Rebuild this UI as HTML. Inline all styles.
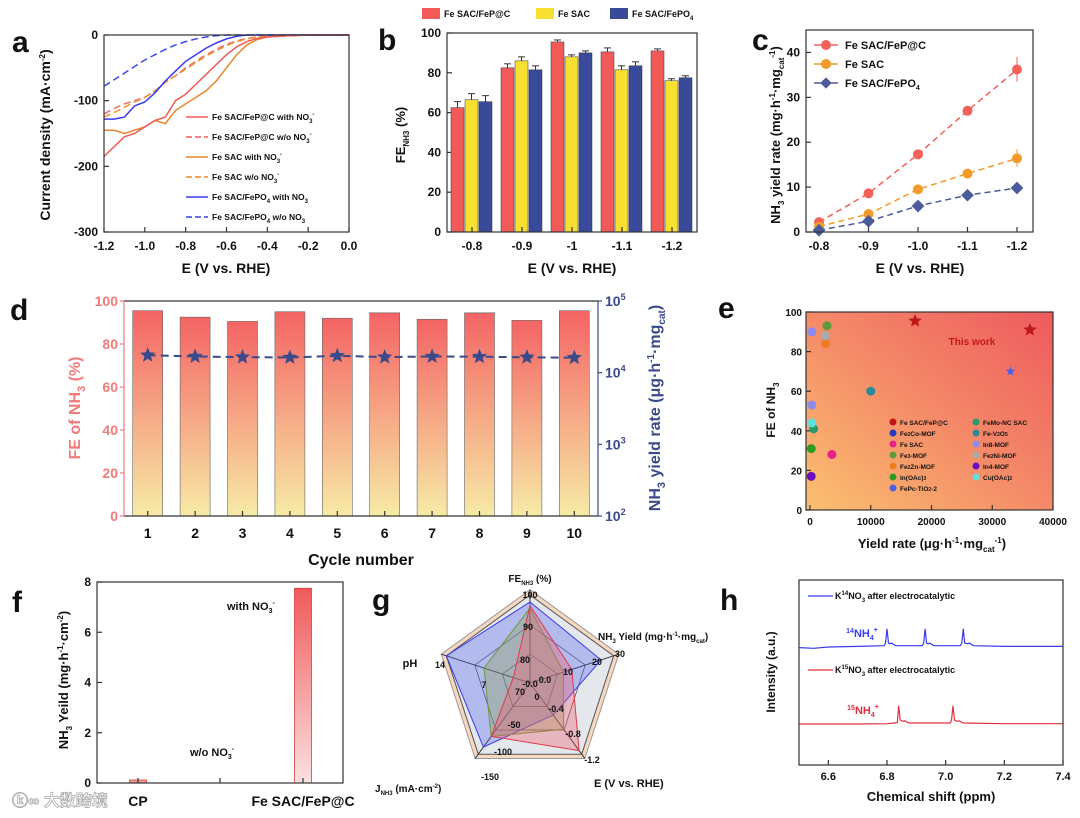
<!DOCTYPE html><html><head><meta charset="utf-8"><style>
body{margin:0;background:#fff}svg{display:block;font-family:"Liberation Sans","Noto Sans CJK SC",sans-serif;font-weight:bold}
</style></head><body>
<svg id="s" width="1080" height="818" viewBox="0 0 1080 818">
<defs>
<linearGradient id="bg" x1="0" y1="0" x2="0" y2="1"><stop offset="0" stop-color="#f46464"/><stop offset="1" stop-color="#f7eaa6"/></linearGradient>
<linearGradient id="eg" x1="0" y1="1" x2="1" y2="0"><stop offset="0" stop-color="#fbc070"/><stop offset="0.5" stop-color="#f48a68"/><stop offset="1" stop-color="#ee5a5e"/></linearGradient>
<linearGradient id="fg" x1="0" y1="0" x2="0" y2="1"><stop offset="0" stop-color="#f05a5a"/><stop offset="1" stop-color="#fbe0e0"/></linearGradient>
</defs>
<g id="root"></g>
</svg>
<script>
// ---------- data ----------
const aX=[-1.2,-1.15,-1.1,-1.05,-1.0,-0.95,-0.9,-0.85,-0.8,-0.75,-0.7,-0.65,-0.6,-0.55,-0.5,-0.45,-0.4,-0.3,-0.2,-0.1,0];
const aRedSolid=[-185,-170,-155,-150,-140,-130,-125,-100,-90,-75,-60,-45,-30,-18,-10,-5,-3,-1,0,0,0];
const aRedDash=[-120,-112,-105,-100,-95,-85,-72,-62,-50,-40,-30,-22,-14,-9,-5,-3,-2,-1,0,0,0];
const aOrSolid=[-145,-145,-150,-145,-140,-130,-135,-115,-105,-95,-85,-70,-50,-30,-15,-7,-3,-1,0,0,0];
const aOrDash=[-125,-118,-110,-102,-95,-85,-72,-62,-52,-42,-32,-24,-16,-10,-6,-3,-2,-1,0,0,0];
const aBlSolid=[-128,-128,-125,-108,-102,-88,-70,-55,-40,-30,-20,-12,-6,-2,0,0,0,0,0,0,0];
const aBlDash=[-78,-68,-58,-48,-38,-30,-22,-15,-10,-6,-3,-1,0,0,0,0,0,0,0,0,0];
const bCats=["-0.8","-0.9","-1","-1.1","-1.2"];
const bFeP=[62.5,82.5,95.5,90.5,91];
const bSAC=[66.5,86,88,81.5,76];
const bPO4=[65.5,81.5,90,83.5,77.5];
const bErr=[3,2,1,2,1];
const cX=[-0.8,-0.9,-1.0,-1.1,-1.2];
const cFeP=[2.2,8.6,17.3,27,36.2];
const cSAC=[1.2,4,9.5,13,16.4];
const cPO4=[0.4,2.4,5.8,8.2,9.8];
const dCycles=[1,2,3,4,5,6,7,8,9,10];
const dFE=[95.5,92.5,90.5,95,92,94.5,91.5,94.5,91,95.5];
const dYield=[17500,16800,16500,16300,17200,16500,16800,16700,16400,16200];
const eX=[17300,36200,3600,300,2800,2600,200,33000,600,10000,300,2500,200,300];
const eY=[95.5,91,28,90,93,84,31,70,41,60,53,88,17,44];
const eCol=["#c0181a","#c0181a","#e8208a","#8a8cf0","#5c9a3a","#f07a20","#2a9a20","#5060e0","#2a9a6a","#2a8a9a","#8a8cf0","#aaa","#6a10c0","#60e0e0"];
const fCats=["CP","Fe SAC/FeP@C"];
const fVals=[0.12,7.75];
const gAxes=["FE","Y","E","J","pH"];
const gBlue=[0.92,0.85,0.45,0.9,1.0];
const gRed=[0.88,0.5,0.95,0.75,0.2];
const gGreen=[0.85,0.4,0.65,0.75,0.55];
const hX=[6.5,6.55,6.6,6.7,6.79,6.795,6.8,6.805,6.81,6.815,6.83,6.92,6.925,6.93,6.935,6.94,6.945,6.96,7.05,7.055,7.06,7.065,7.075,7.08,7.095,7.2,7.3,7.4];
const hTop=[-1,-2,0,1,2,6,28,6,5,6,2,2,6,28,6,5,6,2,2,6,28,6,5,6,2,1,1,1];
const hX2=[6.5,6.6,6.7,6.8,6.835,6.84,6.845,6.855,6.86,6.875,7.015,7.02,7.025,7.03,7.04,7.045,7.06,7.2,7.3,7.4];
const hBot=[0,0,0,0.5,2,28,6,4,5,1.5,1.5,6,28,6,4,5,1.5,0.5,0.5,0.5];
// ---------- helpers ----------
const NS="http://www.w3.org/2000/svg";const R=document.getElementById('root');
function el(t,a,p){const e=document.createElementNS(NS,t);for(const k in a)e.setAttribute(k,a[k]);(p||R).appendChild(e);return e;}
function tx(x,y,s,o){o=o||{};const e=el('text',{x:x,y:y,'font-size':o.fs||12,'text-anchor':o.a||'middle',fill:o.c||'#111'});if(o.r)e.setAttribute('transform',`rotate(${o.r} ${x} ${y})`);e.innerHTML=s;


return e;}
function lin(d0,d1,r0,r1){return v=>r0+(v-d0)/(d1-d0)*(r1-r0);}
function frame(x0,y0,x1,y1,n){const e=el('rect',{x:x0,y:y0,width:x1-x0,height:y1-y0,fill:'none',stroke:'#333','stroke-width':1.2});

}
function path(xs,ys,X,Y,st,n){const d=xs.map((v,i)=>(i?'L':'M')+X(v).toFixed(1)+','+Y(ys[i]).toFixed(1)).join('');const e=el('path',Object.assign({d:d,fill:'none'},st));

return e;}
function tick(x1,y1,x2,y2,c){el('line',{x1,y1,x2,y2,stroke:c||'#333','stroke-width':1.2});}
function panel(l,x,y){tx(x,y,l,{fs:30,a:'start',n:'panel-label-'+l});}
// ---------- a ----------
panel('a',12,52);
{const X=lin(-1.2,0,104,349),Y=lin(-300,0,232,35);
[0,-100,-200,-300].forEach(v=>{tick(104,Y(v),109,Y(v));tx(98,Y(v)+4,v,{a:'end',n:'a-ytick'});});
[-1.2,-1.0,-0.8,-0.6,-0.4,-0.2,0].forEach(v=>{tick(X(v),232,X(v),227);tx(X(v),250,v.toFixed(1),{n:'a-xtick'});});
path(aX,aRedDash,X,Y,{stroke:'#f06a6a','stroke-width':1.5,'stroke-dasharray':'7 4'},'a-fep-wo');
path(aX,aOrDash,X,Y,{stroke:'#f0902a','stroke-width':1.5,'stroke-dasharray':'7 4'},'a-sac-wo');
path(aX,aBlDash,X,Y,{stroke:'#3a4af0','stroke-width':1.5,'stroke-dasharray':'7 4'},'a-po4-wo');
path(aX,aOrSolid,X,Y,{stroke:'#e8862a','stroke-width':1.5},'a-sac-with');
path(aX,aBlSolid,X,Y,{stroke:'#3a3af0','stroke-width':1.5},'a-po4-with');
path(aX,aRedSolid,X,Y,{stroke:'#f05a5a','stroke-width':1.5},'a-fep-with');
frame(104,35,349,232,'a-plot-frame');
const lg=[["Fe SAC/FeP@C with NO<tspan font-size='6' dy='3'>3</tspan><tspan font-size='6' dy='-7'>-</tspan>",'#f05a5a',0],["Fe SAC/FeP@C w/o NO<tspan font-size='6' dy='3'>3</tspan><tspan font-size='6' dy='-7'>-</tspan>",'#f05a5a',1],["Fe SAC with NO<tspan font-size='6' dy='3'>3</tspan><tspan font-size='6' dy='-7'>-</tspan>",'#e8862a',0],["Fe SAC w/o NO<tspan font-size='6' dy='3'>3</tspan><tspan font-size='6' dy='-7'>-</tspan>",'#e8862a',1],["Fe SAC/FePO<tspan font-size='6' dy='3'>4</tspan><tspan dy='-3'> with NO</tspan><tspan font-size='6' dy='3'>3</tspan>",'#3a3af0',0],["Fe SAC/FePO<tspan font-size='6' dy='3'>4</tspan><tspan dy='-3'> w/o NO</tspan><tspan font-size='6' dy='3'>3</tspan>",'#3a3af0',1]];
lg.forEach((g,i)=>{const y=117+i*20;el('line',{x1:186,y1:y,x2:208,y2:y,stroke:g[1],'stroke-width':1.6,'stroke-dasharray':g[2]?'6 3':'none'});tx(212,y+3,g[0],{fs:8.5,a:'start',n:'a-legend-entry'});});
tx(50,135,"Current density (mA·cm<tspan font-size='8' dy='-5'>-2</tspan><tspan dy='5'>)</tspan>",{fs:14,r:-90,n:'a-y-title'});
tx(226,273,"E (V vs. RHE)",{fs:14,n:'a-x-title'});}
// ---------- b ----------
panel('b',378,50);
{const Y=lin(0,100,232,33),x0=447,w=250,bw=(w/5);
[0,20,40,60,80,100].forEach(v=>{tick(447,Y(v),452,Y(v));tx(441,Y(v)+4,v,{a:'end',n:'b-ytick'});});
const cols=['#f25a5a','#f8e030','#3a4a9a'];
bCats.forEach((c,i)=>{const cx=x0+bw*(i+0.5);[bFeP,bSAC,bPO4].forEach((s,j)=>{const x=cx-21+j*14,y=Y(s[i]);const r=el('rect',{x:x,y:y,width:13,height:232-y,fill:cols[j],stroke:'#333','stroke-width':0.5});


el('line',{x1:x+6.5,y1:y-bErr[i]*2,x2:x+6.5,y2:y,stroke:'#333','stroke-width':1});el('line',{x1:x+3,y1:y-bErr[i]*2,x2:x+10,y2:y-bErr[i]*2,stroke:'#333','stroke-width':1});});
tick(cx,232,cx,227);tx(cx,250,c,{n:'b-xtick'});});
frame(447,33,697,232,'b-plot-frame');
[['Fe SAC/FeP@C',cols[0],422],['Fe SAC',cols[1],536],['Fe SAC/FePO<tspan font-size="6" dy="3">4</tspan>',cols[2],610]].forEach(g=>{const r=el('rect',{x:g[2],y:8,width:18,height:11,fill:g[1]});


tx(g[2]+22,17,g[0],{fs:9,a:'start',n:'b-legend-entry'});});
tx(405,135,"FE<tspan font-size='8' dy='4'>NH3</tspan><tspan dy='-4'> (%)</tspan>",{fs:13,r:-90,n:'b-y-title'});
tx(572,273,"E (V vs. RHE)",{fs:14,n:'b-x-title'});}
// ---------- c ----------
panel('c',752,50);
{const X=lin(-0.8,-1.2,819,1017),Y=lin(0,45,232,30);
[0,10,20,30,40].forEach(v=>{tick(806,Y(v),811,Y(v));tx(800,Y(v)+4,v,{a:'end',n:'c-ytick'});});
cX.forEach(v=>{tick(X(v),232,X(v),227);tx(X(v),250,v.toFixed(1),{n:'c-xtick'});});
[[cFeP,'#f2625a'],[cSAC,'#f29a2a'],[cPO4,'#4a5a9a']].forEach((s,j)=>{path(cX,s[0],X,Y,{stroke:s[1],'stroke-width':1.5,'stroke-dasharray':'6 4'},'c-line-'+j);
s[0].forEach((v,i)=>{const m=j==2?el('rect',{x:X(cX[i])-4.5,y:Y(v)-4.5,width:9,height:9,fill:s[1],transform:`rotate(45 ${X(cX[i])} ${Y(v)})`}):el('circle',{cx:X(cX[i]),cy:Y(v),r:5,fill:s[1]});

});});
el('line',{x1:X(-1.2),y1:Y(39),x2:X(-1.2),y2:Y(33.5),stroke:'#f2625a'});el('line',{x1:X(-1.2),y1:Y(18.5),x2:X(-1.2),y2:Y(14.5),stroke:'#f29a2a'});
frame(806,30,1033,232,'c-plot-frame');
[['Fe SAC/FeP@C','#f2625a',0],['Fe SAC','#f29a2a',1],['Fe SAC/FePO<tspan font-size="7" dy="3">4</tspan>','#4a5a9a',2]].forEach((g,i)=>{const y=45+i*19;el('line',{x1:814,y1:y,x2:838,y2:y,stroke:g[1],'stroke-width':1.5});
const m=i==2?el('rect',{x:822,y:y-4,width:8,height:8,fill:g[1],transform:`rotate(45 826 ${y})`}):el('circle',{cx:826,cy:y,r:5,fill:g[1]});


tx(845,y+4,g[0],{fs:11,a:'start',n:'c-legend-entry'});});
tx(780,135,"NH<tspan font-size='8' dy='4'>3</tspan><tspan dy='-4'> yield rate (mg·h</tspan><tspan font-size='8' dy='-5'>-1</tspan><tspan dy='5'>·mg</tspan><tspan font-size='8' dy='4'>cat</tspan><tspan font-size='8' dy='-9'>-1</tspan><tspan dy='5'>)</tspan>",{fs:13,r:-90,n:'c-y-title'});
tx(920,273,"E (V vs. RHE)",{fs:14,n:'c-x-title'});}
// ---------- d ----------
panel('d',10,320);
{const x0=124,x1=598,y0=301,y1=516,Y=lin(0,100,y1,y0),sp=(x1-x0)/10,YL=v=>lin(2,5,y1,y0)(Math.log10(v));
dCycles.forEach((c,i)=>{const cx=x0+sp*(i+0.5),y=Y(dFE[i]);const r=el('rect',{x:cx-15,y:y,width:30,height:y1-y,fill:'url(#bg)',stroke:'#666','stroke-width':0.6});


tick(cx,y1,cx,y1-5);tx(cx,538,c,{fs:14,n:'d-xtick'});});
path(dCycles,dYield,c=>x0+sp*(c-0.5),YL,{stroke:'#3a4a8a','stroke-width':2,'stroke-dasharray':'8 5'},'d-yield-line');
dCycles.forEach((c,i)=>{const cx=x0+sp*(i+0.5),cy=YL(dYield[i]);const p=[];for(let k=0;k<10;k++){const r=k%2?3.5:8,a=-Math.PI/2+k*Math.PI/5;p.push((cx+r*Math.cos(a)).toFixed(1)+','+(cy+r*Math.sin(a)).toFixed(1));}
const s=el('polygon',{points:p.join(' '),fill:'#3a4a8a'});

});
el('line',{x1:x0,y1:y0,x2:x1,y2:y0,stroke:'#333','stroke-width':1.2});
el('line',{x1:x0,y1:y1,x2:x1,y2:y1,stroke:'#333','stroke-width':1.2});
el('line',{x1:x0,y1:y0,x2:x0,y2:y1,stroke:'#f27a7a','stroke-width':1.2});
el('line',{x1:x1,y1:y0,x2:x1,y2:y1,stroke:'#3a4a8a','stroke-width':1.2});
[0,20,40,60,80,100].forEach(v=>{tick(x0-4,Y(v),x0,Y(v),'#f27a7a');tx(x0-6,Y(v)+5,v,{fs:14,a:'end',c:'#f27a7a',n:'d-ytick-left'});});
[2,3,4,5].forEach(p=>{tick(x1,YL(Math.pow(10,p)),x1+4,YL(Math.pow(10,p)),'#3a4a8a');tx(x1+7,YL(Math.pow(10,p))+5,"10<tspan font-size='9' dy='-6'>"+p+"</tspan>",{fs:14,a:'start',c:'#3a4a8a',n:'d-ytick-right'});});
tx(80,408,"FE of NH<tspan font-size='11' dy='5'>3</tspan><tspan dy='-5'> (%)</tspan>",{fs:16,r:-90,c:'#f27a7a',n:'d-y-title-left'});
tx(660,408,"NH<tspan font-size='11' dy='5'>3</tspan><tspan dy='-5'> yield rate (μg·h</tspan><tspan font-size='10' dy='-6'>-1</tspan><tspan dy='6'>·mg</tspan><tspan font-size='10' dy='5'>cat</tspan><tspan dy='-5'>)</tspan>",{fs:16,r:-90,c:'#3a4a8a',n:'d-y-title-right'});
tx(361,565,"Cycle number",{fs:16,n:'d-x-title'});}
// ---------- e ----------
panel('e',718,318);
{const X=lin(0,40000,810,1053),Y=lin(0,100,510,312);
const bgr=el('rect',{x:806,y:312,width:247,height:198,fill:'url(#eg)'});


[0,20,40,60,80,100].forEach(v=>{tick(806,Y(v),811,Y(v));tx(802,Y(v)+4,v,{fs:10,a:'end',n:'e-ytick'});});
[0,10000,20000,30000,40000].forEach(v=>{tick(X(v),510,X(v),505);tx(X(v),525,v,{fs:10,n:'e-xtick'});});
eX.forEach((v,i)=>{let m;if(i<2||i==7){const cx=X(v),cy=Y(eY[i]),p=[];const R0=i<2?7:5;for(let k=0;k<10;k++){const r=k%2?R0*0.45:R0,a=-Math.PI/2+k*Math.PI/5;p.push((cx+r*Math.cos(a)).toFixed(1)+','+(cy+r*Math.sin(a)).toFixed(1));}m=el('polygon',{points:p.join(' '),fill:eCol[i]});}
else m=el('circle',{cx:X(v),cy:Y(eY[i]),r:4.5,fill:eCol[i]});

});
tx(972,345,"This work",{fs:10,c:'#c41818',n:'e-this-work'});
const L1=["Fe SAC/FeP@C","Fe<tspan font-size='5'>2</tspan>Co-MOF","Fe SAC","Fe<tspan font-size='5'>3</tspan>-MOF","Fe<tspan font-size='5'>2</tspan>Zn-MOF","In(OAc)<tspan font-size='5'>3</tspan>","FePc-TiO<tspan font-size='5'>2</tspan>-2"],C1=['#c0181a','#2a3ac0','#e8208a','#5c9a3a','#f07a20','#2a9a20','#5060e0'];
const L2=["FeMo-NC SAC","Fe-V<tspan font-size='5'>2</tspan>O<tspan font-size='5'>5</tspan>","In8-MOF","Fe<tspan font-size='5'>2</tspan>Ni-MOF","In4-MOF","Cu(OAc)<tspan font-size='5'>2</tspan>"],C2=['#2a9a6a','#2a8a9a','#8a8cf0','#aaa','#6a10c0','#60e0e0'];
L1.forEach((s,i)=>{const y=422+i*11;const c=el('circle',{cx:893,cy:y,r:3.5,fill:C1[i]});


tx(900,y+3,s,{fs:6.5,a:'start',n:'e-legend-entry'});});
L2.forEach((s,i)=>{const y=422+i*11;const c=el('circle',{cx:976,cy:y,r:3.5,fill:C2[i]});


tx(983,y+3,s,{fs:6.5,a:'start',n:'e-legend-entry'});});
frame(806,312,1053,510,'e-plot-frame');
tx(775,410,"FE of NH<tspan font-size='8' dy='4'>3</tspan>",{fs:12,r:-90,n:'e-y-title'});
tx(932,548,"Yield rate (μg·h<tspan font-size='8' dy='-5'>-1</tspan><tspan dy='5'>·mg</tspan><tspan font-size='8' dy='4'>cat</tspan><tspan font-size='8' dy='-9'>-1</tspan><tspan dy='5'>)</tspan>",{fs:13,n:'e-x-title'});}
// ---------- f ----------
panel('f',12,612);
{const Y=lin(0,8,783,582),xs=[138,303];
[0,2,4,6,8].forEach(v=>{tick(97,Y(v),102,Y(v));tx(91,Y(v)+4,v,{a:'end',n:'f-ytick'});});
fVals.forEach((v,i)=>{const r=el('rect',{x:xs[i]-8.5,y:Y(v),width:17,height:783-Y(v),fill:i?'url(#fg)':'#f2a090',stroke:'#d04040','stroke-width':0.8});


tick(xs[i],783,xs[i],778);
tx(xs[i],806,fCats[i],{fs:14,n:'f-xtick'});});
tick(220,783,220,778);
frame(97,582,343,783,'f-plot-frame');
tx(227,610,"with NO<tspan font-size='7' dy='3'>3</tspan><tspan font-size='7' dy='-8'>-</tspan>",{fs:11,a:'start',n:'f-annot-with'});
tx(190,756,"w/o NO<tspan font-size='7' dy='3'>3</tspan><tspan font-size='7' dy='-8'>-</tspan>",{fs:11,a:'start',n:'f-annot-wo'});
tx(68,680,"NH<tspan font-size='8' dy='4'>3</tspan><tspan dy='-4'> Yeild (mg·h</tspan><tspan font-size='8' dy='-5'>-1</tspan><tspan dy='5'>·cm</tspan><tspan font-size='8' dy='-5'>-2</tspan><tspan dy='5'>)</tspan>",{fs:13,r:-90,n:'f-y-title'});}
{const w=tx(12,806,"ⓚ∞ 大数跨境",{fs:16,c:'#fff',a:'start',n:'watermark'});w.setAttribute('stroke','#aaa');w.setAttribute('stroke-width','0.8');}
// ---------- g ----------
panel('g',372,610);
{const cx=530,cy=683,R0=88,ang=i=>-Math.PI/2+i*2*Math.PI/5,pt=(i,r)=>[cx+R0*r*Math.cos(ang(i)),cy+R0*r*Math.sin(ang(i))];
const poly=r=>[0,1,2,3,4].map(i=>pt(i,r).map(v=>v.toFixed(1)).join(',')).join(' ');
el('polygon',{points:poly(1.06),fill:'#f6d8c0',stroke:'#999'});
el('polygon',{points:poly(1),fill:'#e4e8ec',stroke:'#555'});
[0.33,0.66].forEach(r=>el('polygon',{points:poly(r),fill:'none',stroke:'#444','stroke-width':0.7}));
[0,1,2,3,4].forEach(i=>{const p=pt(i,1.06);el('line',{x1:cx,y1:cy,x2:p[0],y2:p[1],stroke:'#333','stroke-width':1});});
[[gBlue,'rgba(90,100,240,0.35)','#3a3af0'],[gGreen,'rgba(140,160,80,0.35)','#6a9a3a'],[gRed,'rgba(240,90,110,0.35)','#e03a4a']].forEach((s,j)=>{const e=el('polygon',{points:s[0].map((r,i)=>pt(i,r).map(v=>v.toFixed(1)).join(',')).join(' '),fill:s[1],stroke:s[2],'stroke-width':1});

});
[["100",530,598],["90",528,630],["80",525,663],["70",520,695],["30",620,657],["20",597,665],["10",568,675],["0.0",545,683],["-0.4",556,712],["-0.8",573,737],["-1.2",592,763],["-50",514,728],["-100",503,755],["-150",490,780],["14",440,668],["7",484,688],["0",537,700],["-0.0",530,687]].forEach(t=>tx(t[1],t[2],t[0],{fs:9,n:'g-axis-tick'}));
tx(530,582,"FE<tspan font-size='6' dy='3'>NH3</tspan><tspan dy='-3'> (%)</tspan>",{fs:10,n:'g-axis-fe'});
tx(598,640,"NH<tspan font-size='6' dy='3'>3</tspan><tspan dy='-3'> Yield (mg·h</tspan><tspan font-size='6' dy='-4'>-1</tspan><tspan dy='4'>·mg</tspan><tspan font-size='6' dy='3'>cat</tspan><tspan dy='-3'>)</tspan>",{fs:10,a:'start',n:'g-axis-yield'});
tx(410,667,"pH",{fs:11,n:'g-axis-ph'});
tx(375,792,"J<tspan font-size='6' dy='3'>NH3</tspan><tspan dy='-3'> (mA·cm</tspan><tspan font-size='6' dy='-4'>-2</tspan><tspan dy='4'>)</tspan>",{fs:10,a:'start',n:'g-axis-j'});
tx(594,787,"E (V vs. RHE)",{fs:11,a:'start',n:'g-axis-e'});}
// ---------- h ----------
panel('h',720,610);
{const X=lin(6.5,7.4,799,1063),Yt=v=>647-v*0.65,Yb=v=>724-v*0.65;
path(hX,hTop,X,Yt,{stroke:'#3a3af0','stroke-width':1.2},'h-spectrum-14N');
path(hX2,hBot,X,Yb,{stroke:'#e03040','stroke-width':1.2},'h-spectrum-15N');
[6.6,6.8,7.0,7.2,7.4].forEach(v=>{tick(X(v),765,X(v),760);tx(X(v),780,v.toFixed(1),{fs:11,n:'h-xtick'});});
frame(799,580,1063,765,'h-plot-frame');
el('line',{x1:808,y1:596,x2:833,y2:596,stroke:'#3a3af0','stroke-width':1.3});
tx(835,599,"K<tspan font-size='6' dy='-4'>14</tspan><tspan dy='4'>NO</tspan><tspan font-size='6' dy='3'>3</tspan><tspan dy='-3'> after electrocatalytic</tspan>",{fs:9,a:'start',n:'h-legend-14N'});
el('line',{x1:808,y1:670,x2:833,y2:670,stroke:'#e03040','stroke-width':1.3});
tx(835,673,"K<tspan font-size='6' dy='-4'>15</tspan><tspan dy='4'>NO</tspan><tspan font-size='6' dy='3'>3</tspan><tspan dy='-3'> after electrocatalytic</tspan>",{fs:9,a:'start',n:'h-legend-15N'});
tx(862,637,"<tspan font-size='7' dy='-4'>14</tspan><tspan dy='4'>NH</tspan><tspan font-size='7' dy='3'>4</tspan><tspan font-size='7' dy='-8'>+</tspan>",{fs:11,c:'#3a3af0',n:'h-peak-label-14'});
tx(863,714,"<tspan font-size='7' dy='-4'>15</tspan><tspan dy='4'>NH</tspan><tspan font-size='7' dy='3'>4</tspan><tspan font-size='7' dy='-8'>+</tspan>",{fs:11,c:'#e03040',n:'h-peak-label-15'});
tx(775,672,"Intensity (a.u.)",{fs:12,r:-90,n:'h-y-title'});
tx(931,801,"Chemical shift (ppm)",{fs:13,n:'h-x-title'});}
</script></body></html>
